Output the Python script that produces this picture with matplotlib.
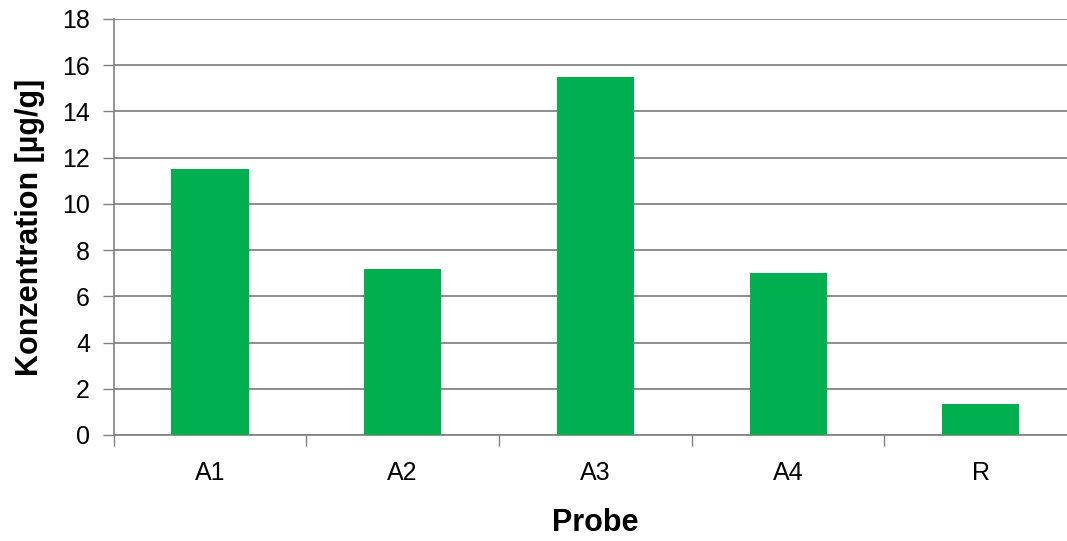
import numpy as np
import matplotlib
matplotlib.use('Agg')
import matplotlib.pyplot as plt

plt.rcParams['font.family'] = ['Liberation Sans', 'DejaVu Sans']

# data
proben = ['A1', 'A2', 'A3', 'A4', 'R']
konz = [11.5, 7.2, 15.5, 7.0, 1.35]

fig = plt.figure(figsize=(10.67, 5.41), dpi=100)
ax = fig.add_axes([0.1065, 0.196, 0.903, 0.769])

x = np.arange(len(proben))
ax.bar(x, konz, width=0.4, color='#00b050', zorder=3)

ax.set_xlim(-0.5, len(proben) - 0.5)
ax.set_ylim(0, 18)
ax.set_yticks(range(0, 19, 2))

# category boundaries get the tick marks, labels sit in between
ax.set_xticks(np.arange(-0.5, len(proben), 1.0))
ax.set_xticklabels([])
ax.set_xticks(x, minor=True)
ax.set_xticklabels(proben, minor=True)
ax.tick_params(axis='x', which='minor', length=0, pad=19, labelsize=18)
ax.tick_params(axis='x', which='major', length=8, width=1, color='#808080')
ax.tick_params(axis='y', length=8, width=1, color='#808080', pad=9, labelsize=18)

ax.grid(axis='y', color='#8c8c8c', linewidth=1.4, zorder=0)
for s in ['top', 'right']:
    ax.spines[s].set_visible(False)
for s in ['left', 'bottom']:
    ax.spines[s].set_color('#808080')
    ax.spines[s].set_linewidth(1.2)

ax.set_ylabel('Konzentration [µg/g]', fontsize=22, fontweight='bold', labelpad=12)
ax.set_xlabel('Probe', fontsize=22, fontweight='bold', labelpad=16)

fig.savefig('out.png', dpi=100)
